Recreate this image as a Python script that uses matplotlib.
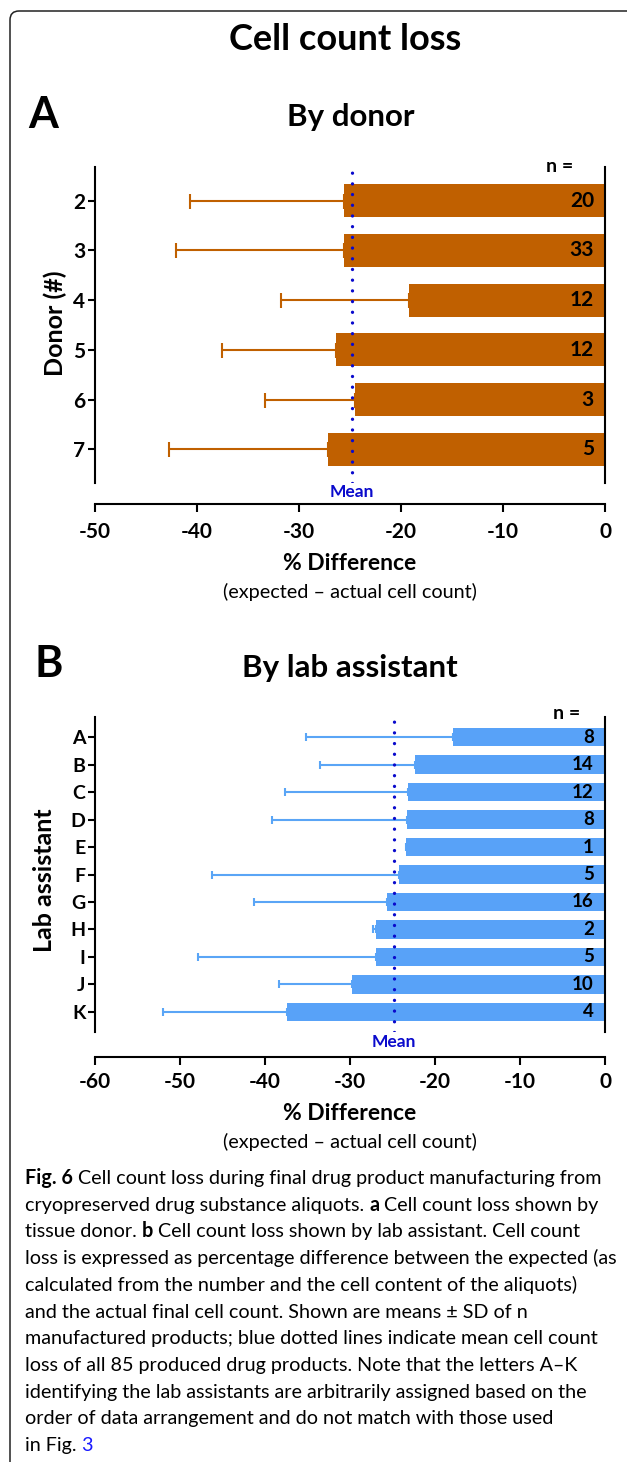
import matplotlib
matplotlib.use("Agg")
import matplotlib.pyplot as plt
from matplotlib.patches import FancyBboxPatch
from matplotlib.transforms import IdentityTransform
import numpy as np

# ---------------- data ----------------
donors = ["2", "3", "4", "5", "6", "7"]
donor_mean = [-25.6, -25.6, -19.2, -26.4, -24.5, -27.2]
donor_sd = [15.1, 16.5, 12.6, 11.1, 8.8, 15.5]
donor_n = [20, 33, 12, 12, 3, 5]

assistants = ["A", "B", "C", "D", "E", "F", "G", "H", "I", "J", "K"]
assist_mean = [-17.9, -22.3, -23.2, -23.3, -23.4, -24.2, -25.7, -26.9, -26.9, -29.8, -37.4]
assist_sd = [17.3, 11.2, 14.4, 15.9, np.nan, 22.0, 15.6, 0.4, 21.0, 8.6, 14.6]
assist_n = [8, 14, 12, 8, 1, 5, 16, 2, 5, 10, 4]

overall_mean = -24.8

caption_lines = [
    [("Fig. 6", "bold", "k"), ("Cell count loss during final drug product manufacturing from", "normal", "k")],
    [("cryopreserved drug substance aliquots.", "normal", "k"), ("a", "bold", "k"), ("Cell count loss shown by", "normal", "k")],
    [("tissue donor.", "normal", "k"), ("b", "bold", "k"), ("Cell count loss shown by lab assistant. Cell count", "normal", "k")],
    [("loss is expressed as percentage difference between the expected (as", "normal", "k")],
    [("calculated from the number and the cell content of the aliquots)", "normal", "k")],
    [("and the actual final cell count. Shown are means \u00b1 SD of n", "normal", "k")],
    [("manufactured products; blue dotted lines indicate mean cell count", "normal", "k")],
    [("loss of all 85 produced drug products. Note that the letters A\u2013K", "normal", "k")],
    [("identifying the lab assistants are arbitrarily assigned based on the", "normal", "k")],
    [("order of data arrangement and do not match with those used", "normal", "k")],
    [("in Fig.", "normal", "k"), ("3", "normal", "#1a1aff")],
]

# ---------------- style ----------------
plt.rcParams["font.family"] = ["Lato", "DejaVu Sans"]
plt.rcParams["axes.unicode_minus"] = False

W, H = 627, 1462
fig = plt.figure(figsize=(W / 100, H / 100), dpi=100)
fig.patch.set_facecolor("white")

ORANGE = "#C06000"
BLUE_BAR = "#58A2F8"
BLUE_ERR = "#5AA5F6"
MEAN_COL = "#0A0ACC"
LW = 1.5
BW = "bold"


def rect(l, t, r, b):
    return [l / W, 1 - b / H, (r - l) / W, (b - t) / H]


def style_axes(ax, offset_pt, ytick_fs, xpad):
    ax.spines["top"].set_visible(False)
    for s in ["left", "right", "bottom"]:
        ax.spines[s].set_linewidth(LW)
        ax.spines[s].set_color("black")
    ax.spines["bottom"].set_position(("outward", offset_pt))
    ax.tick_params(axis="y", direction="out", length=5, width=LW, pad=2,
                   labelsize=ytick_fs, right=False)
    ax.tick_params(axis="x", direction="out", length=5.8, width=LW, pad=xpad,
                   labelsize=15)
    for lab in ax.get_yticklabels() + ax.get_xticklabels():
        lab.set_fontweight(BW)


def panel(ax, cats, means, sds, ns, color, ecolor, height, capsize, xmin, ticks,
          ylims, offset_pt, ytick_fs, xpad, ylabel, n_fs, mean_off, nlab_x, nlab_off):
    y = np.arange(len(cats))
    ax.errorbar(means, y, xerr=[sds, np.zeros(len(sds))], fmt="none", ecolor=ecolor,
                elinewidth=LW, capsize=capsize, capthick=LW, zorder=1)
    ax.barh(y, means, height=height, color=color, edgecolor="none", zorder=2)
    ax.axvline(overall_mean, color=MEAN_COL, lw=2.4, linestyle=(0, (0.01, 3.2)),
               dash_capstyle="round", zorder=3)
    ax.set_xlim(xmin, 0)
    ax.set_ylim(*ylims)
    ax.set_yticks(y)
    ax.set_yticklabels(cats)
    ax.set_xticks(ticks)
    ax.set_xticklabels([str(t) for t in ticks])
    style_axes(ax, offset_pt, ytick_fs, xpad)
    for yi, n in zip(y, ns):
        ax.annotate(str(n), xy=(0, yi), xytext=(-8, 0), textcoords="offset points",
                    ha="right", va="center", fontsize=n_fs, fontweight=BW, zorder=4)
    ax.annotate("n =", xy=(nlab_x, 1.0), xycoords=("data", "axes fraction"),
                xytext=(0, nlab_off), textcoords="offset points", ha="center", va="center",
                fontsize=14, fontweight=BW)
    ax.annotate("Mean", xy=(overall_mean, 0), xycoords=("data", "axes fraction"),
                xytext=(0, mean_off), textcoords="offset points", ha="center", va="center",
                fontsize=12.5, fontweight=BW, color=MEAN_COL)
    ax.set_ylabel(ylabel, fontsize=18, fontweight=BW, va="center")


# Panel A
axA = fig.add_axes(rect(95, 167, 605, 483))
panel(axA, donors, donor_mean, donor_sd, donor_n, ORANGE, ORANGE, 0.67, 5.4, -50,
      [-50, -40, -30, -20, -10, 0], (5.68, -0.68), 15, 15, 7, "Donor (#)", 15, -6.5,
      -4.4, 0.5)
axA.yaxis.set_label_coords(55 / W, 1 - 323 / H, transform=fig.transFigure)

# Panel B
axB = fig.add_axes(rect(95, 717, 605, 1032))
panel(axB, assistants, assist_mean, assist_sd, assist_n, BLUE_BAR, BLUE_ERR, 0.66, 3.2, -60,
      [-60, -50, -40, -30, -20, -10, 0], (10.73, -0.73), 18, 14, 5, "Lab assistant", 13.5,
      -7, -4.5, 2.2)
axB.yaxis.set_label_coords(45 / W, 1 - 880 / H, transform=fig.transFigure)


def ftext(x, y, s, **kw):
    return fig.text(x / W, 1 - y / H, s, **kw)


# titles
ftext(345, 50, "Cell count loss", ha="center", va="baseline", fontsize=26, fontweight=BW)
ftext(28, 128, "A", ha="left", va="baseline", fontsize=31, fontweight=BW)
ftext(351, 126, "By donor", ha="center", va="baseline", fontsize=22.5, fontweight=BW)
ftext(34, 677, "B", ha="left", va="baseline", fontsize=31, fontweight=BW)
ftext(350, 677, "By lab assistant", ha="center", va="baseline", fontsize=22.5, fontweight=BW)

# x labels
for yl, ys in [(563, 592), (1114, 1142)]:
    ftext(350, yl, "% Difference", ha="center", va="center", fontsize=16.5, fontweight=BW)
    ftext(350, ys, "(expected \u2013 actual cell count)", ha="center", va="center", fontsize=14.3)

# border
border = FancyBboxPatch((10, -30), 640, H - 11 + 30, boxstyle="round,pad=0,rounding_size=9",
                        transform=IdentityTransform(), facecolor="none", edgecolor="#222222",
                        linewidth=1.1)
fig.add_artist(border)

# caption
renderer = fig.canvas.get_renderer()
CAP_FONT = ["Lato", "DejaVu Sans"]


def measure(s, fs, weight):
    t = fig.text(0, 0, s, fontsize=fs, fontweight=weight, family=CAP_FONT)
    bb = t.get_window_extent(renderer)
    t.remove()
    return bb.width


def line_width(parts, fs):
    sp = measure("x x", fs, "normal") - measure("xx", fs, "normal")
    return sum(measure(t, fs, w) for t, w, c in parts) + sp * (len(parts) - 1)


probe = 13.0
widest = max(line_width(p, probe) for p in caption_lines)
cap_fs = probe * 592.0 / widest

space_w = measure("x x", cap_fs, "normal") - measure("xx", cap_fs, "normal")
x0 = 25
y_first = 1184
dy = 26.7
for i, parts in enumerate(caption_lines):
    yb = y_first + i * dy
    x = x0
    for j, (txt, weight, col) in enumerate(parts):
        if j > 0:
            x += space_w
        t = ftext(x, yb, txt, ha="left", va="baseline", fontsize=cap_fs, fontweight=weight,
                  color=col, family=CAP_FONT)
        x += t.get_window_extent(renderer).width

fig.savefig("out.png", dpi=100, facecolor="white")
